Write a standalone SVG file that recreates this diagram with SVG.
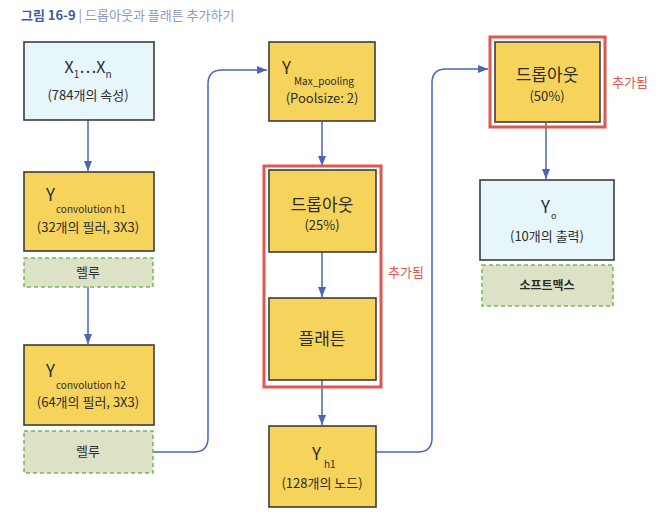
<svg xmlns="http://www.w3.org/2000/svg" width="664" height="517" viewBox="0 0 664 517">
<defs>
<style>
.t{font-family:"Noto Sans CJK KR","Noto Sans",sans-serif;fill:#2b2b2b}
.yel{fill:#f6d45c;stroke:#3d3d3d;stroke-width:1.6}
.blu{fill:#e7f6fa;stroke:#3d3d3d;stroke-width:1.6}
.grn{fill:#dde2c6;stroke:#76b95a;stroke-width:1.5;stroke-dasharray:4 3}
.red{fill:none;stroke:#e0574f;stroke-width:3}
.c{fill:none;stroke:#4a66b3;stroke-width:1.5}
.main{font-size:17px}
.sub{font-size:10px}
.par{font-size:13px}
.add{font-family:"Noto Sans CJK KR","Noto Sans",sans-serif;font-size:13px;fill:#e0574f}
</style>
<marker id="ah" markerWidth="10" markerHeight="8" refX="10" refY="4" orient="auto" markerUnits="userSpaceOnUse">
<path d="M0,0 L10,4 L0,8 Z" fill="#4a66b3"/>
</marker>
</defs>
<rect width="664" height="517" fill="#ffffff"/>
<g id="title">
<text x="21" y="20" class="t" style="font-size:13px"><tspan font-weight="bold" fill="#3f5b9c">그림 16-9</tspan><tspan fill="#8d9ac0"> | 드롭아웃과 플래튼 추가하기</tspan></text>
</g>
<g id="connectors">
<path class="c" d="M88,116 V171" marker-end="url(#ah)"/>
<path class="c" d="M88,287 V344" marker-end="url(#ah)"/>
<path class="c" d="M153,452 H194 Q208,452 208,438 V84 Q208,70 222,70 H267" marker-end="url(#ah)"/>
<path class="c" d="M322,122 V166" marker-end="url(#ah)"/>
<path class="c" d="M322,252 V297" marker-end="url(#ah)"/>
<path class="c" d="M322,380 V425" marker-end="url(#ah)"/>
<path class="c" d="M376,452 H418 Q432,452 432,438 V83 Q432,69 446,69 H488" marker-end="url(#ah)"/>
<path class="c" d="M546,123 V179" marker-end="url(#ah)"/>
</g>
<g id="input">
<rect class="blu" x="24" y="42" width="130" height="78"/>
<text class="t" x="88" y="73" text-anchor="middle" style="font-size:16px">X<tspan class="sub" dy="5">1</tspan><tspan dy="-5">…X</tspan><tspan class="sub" dy="5">n</tspan></text>
<text class="t par" x="88" y="100" text-anchor="middle">(784개의 속성)</text>
</g>
<g id="conv1">
<rect class="yel" x="24" y="172" width="130" height="79"/>
<text class="t main" x="46" y="201">Y</text>
<text class="t sub" x="56" y="213">convolution h1</text>
<text class="t par" x="88" y="232" text-anchor="middle">(32개의 필러, 3X3)</text>
</g>
<g id="relu1">
<rect class="grn" x="24" y="258" width="129" height="29"/>
<text class="t par" x="88" y="277" text-anchor="middle">렐루</text>
</g>
<g id="conv2">
<rect class="yel" x="24" y="345" width="130" height="80"/>
<text class="t main" x="46" y="377">Y</text>
<text class="t sub" x="56" y="389">convolution h2</text>
<text class="t par" x="88" y="407" text-anchor="middle">(64개의 필러, 3X3)</text>
</g>
<g id="relu2">
<rect class="grn" x="24" y="431" width="129" height="42"/>
<text class="t par" x="88" y="456" text-anchor="middle">렐루</text>
</g>
<g id="maxpool">
<rect class="yel" x="269" y="42" width="106" height="79"/>
<text class="t main" x="282" y="74">Y</text>
<text class="t sub" x="294" y="85">Max_pooling</text>
<text class="t par" x="322" y="103" text-anchor="middle">(Poolsize: 2)</text>
</g>
<g id="added1">
<rect class="red" x="264" y="166" width="117" height="221"/>
<text class="add" x="388" y="277">추가됨</text>
</g>
<g id="dropout25">
<rect class="yel" x="269" y="170" width="107" height="82"/>
<text class="t main" x="322" y="211" text-anchor="middle">드롭아웃</text>
<text class="t par" x="322" y="230" text-anchor="middle">(25%)</text>
</g>
<g id="flatten">
<rect class="yel" x="269" y="298" width="107" height="82"/>
<text class="t main" x="322" y="345" text-anchor="middle">플래튼</text>
</g>
<g id="hidden">
<rect class="yel" x="269" y="426" width="107" height="81"/>
<text class="t main" x="312" y="460">Y</text>
<text class="t sub" x="324" y="468">h1</text>
<text class="t par" x="322" y="488" text-anchor="middle">(128개의 노드)</text>
</g>
<g id="added2">
<rect class="red" x="490" y="37" width="115" height="90"/>
<text class="add" x="612" y="87">추가됨</text>
</g>
<g id="dropout50">
<rect class="yel" x="495" y="42" width="105" height="80"/>
<text class="t main" x="547" y="81" text-anchor="middle">드롭아웃</text>
<text class="t par" x="547" y="101" text-anchor="middle">(50%)</text>
</g>
<g id="output">
<rect class="blu" x="480" y="180" width="134" height="80"/>
<text class="t main" x="541" y="213">Y</text>
<text class="t" x="551" y="219" style="font-size:9px">o</text>
<text class="t par" x="547" y="241" text-anchor="middle">(10개의 출력)</text>
</g>
<g id="softmax">
<rect class="grn" x="482" y="265" width="131" height="41"/>
<text class="t" x="547" y="290" text-anchor="middle" style="font-size:12px;font-weight:bold">소프트맥스</text>
</g>
</svg>
